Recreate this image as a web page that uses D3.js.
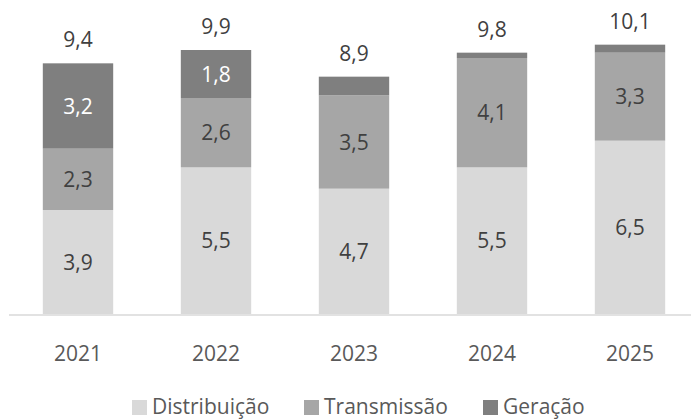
<!DOCTYPE html>
<html>
<head>
<meta charset="utf-8">
<script src="https://cdn.jsdelivr.net/npm/d3@7"></script>
<style>
  html, body { margin: 0; padding: 0; background: #fff; }
  svg { display: block; font-family: "Open Sans", sans-serif; }
</style>
</head>
<body>
<div id="chart"></div>
<script>
// valores por ano (R$ bi)
const years = ["2021", "2022", "2023", "2024", "2025"];
const distribuicao = [3.9, 5.5, 4.7, 5.5, 6.5];
const transmissao = [2.3, 2.6, 3.5, 4.1, 3.3];
const geracao = [3.2, 1.8, 0.7, 0.2, 0.3];
const totals = [9.4, 9.9, 8.9, 9.8, 10.1];

const seriesNames = ["Distribuição", "Transmissão", "Geração"];
const seriesColors = ["#d9d9d9", "#a6a6a6", "#7f7f7f"];
const labelColors = ["#404040", "#404040", "#ffffff"];

const width = 691;
const height = 420;
const baseY = 314;

const fmt = v => d3.format(".1f")(v).replace(".", ",");

function buildRows() {
    return years.map((y, i) => ({
        year: y,
        "Distribuição": distribuicao[i],
        "Transmissão": transmissao[i],
        "Geração": geracao[i],
        total: totals[i]
    }));
}

function drawChart() {
    const rows = buildRows();

    const svg = d3.select("#chart").append("svg")
        .attr("width", width)
        .attr("height", height);

    const x = d3.scaleBand()
        .domain(years)
        .range([9, 699])
        .paddingInner(0.49)
        .paddingOuter(0.245);

    const y = d3.scaleLinear()
        .domain([0, 10.5])
        .range([baseY, 34]);

    const stack = d3.stack().keys(seriesNames);
    const layers = stack(rows);

    const groups = svg.selectAll("g.layer")
        .data(layers)
        .join("g")
        .attr("class", "layer")
        .attr("fill", (d, i) => seriesColors[i]);

    groups.selectAll("rect")
        .data(d => d)
        .join("rect")
        .attr("x", d => x(d.data.year))
        .attr("y", d => y(d[1]))
        .attr("width", x.bandwidth())
        .attr("height", d => y(d[0]) - y(d[1]));

    // labels inside segments (only the bigger ones)
    layers.forEach((layer, li) => {
        svg.append("g")
            .selectAll("text")
            .data(layer.filter(d => d[1] - d[0] >= 1))
            .join("text")
            .attr("x", d => x(d.data.year) + x.bandwidth() / 2)
            .attr("y", d => (y(d[0]) + y(d[1])) / 2)
            .attr("dy", "0.36em")
            .attr("text-anchor", "middle")
            .attr("font-size", "21px")
            .attr("fill", labelColors[li])
            .text(d => fmt(d[1] - d[0]));
    });

    // totals above bars
    svg.append("g")
        .selectAll("text")
        .data(rows)
        .join("text")
        .attr("x", d => x(d.year) + x.bandwidth() / 2)
        .attr("y", d => y(d.total) - 16)
        .attr("text-anchor", "middle")
        .attr("font-size", "21px")
        .attr("fill", "#404040")
        .text(d => fmt(d.total));

    // x axis
    const xAxis = svg.append("g")
        .attr("transform", `translate(0,${baseY})`)
        .call(d3.axisBottom(x).tickSize(0).tickPadding(0));
    xAxis.select(".domain").remove();
    xAxis.selectAll("text")
        .attr("y", 47)
        .attr("dy", 0)
        .attr("font-family", "Open Sans, sans-serif")
        .attr("font-size", "21px")
        .attr("fill", "#595959");

    svg.append("line")
        .attr("x1", 9)
        .attr("x2", width)
        .attr("y1", baseY + 1)
        .attr("y2", baseY + 1)
        .attr("stroke", "#d9d9d9")
        .attr("stroke-width", 1.5);

    // legend
    const legendX = [132, 304, 483];
    const legend = svg.append("g");
    seriesNames.forEach((name, i) => {
        legend.append("rect")
            .attr("x", legendX[i])
            .attr("y", 400)
            .attr("width", 15)
            .attr("height", 15)
            .attr("fill", seriesColors[i]);
        legend.append("text")
            .attr("x", legendX[i] + 20)
            .attr("y", 414)
            .attr("font-size", "21px")
            .attr("fill", "#595959")
            .text(name);
    });
}

drawChart();
</script>
</body>
</html>
